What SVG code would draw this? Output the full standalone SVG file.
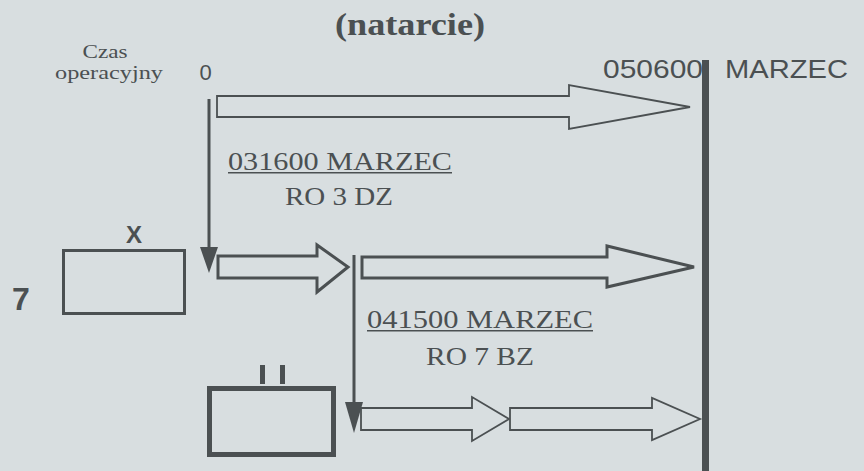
<svg xmlns="http://www.w3.org/2000/svg" width="864" height="471" viewBox="0 0 864 471">
  <defs>
    <style>
      .bg { fill: #d8dee0; }
      .ink { fill: #4b5052; }
      .serif { font-family: "Liberation Serif", "Times New Roman", serif; fill: #4b5052; }
      .sans { font-family: "Liberation Sans", Arial, sans-serif; fill: #4b5052; }
      .arrow { fill: none; stroke: #4b5052; stroke-linejoin: miter; }
      .thin { stroke-width: 1.8; }
      .thick { stroke-width: 3; }
      .box { fill: none; stroke: #4b5052; }
      .line { stroke: #4b5052; fill: none; }
    </style>
  </defs>
  <rect class="bg" x="0" y="0" width="864" height="471"/>

  <text class="serif" x="410" y="35" font-size="32" font-weight="bold" text-anchor="middle" textLength="150" lengthAdjust="spacingAndGlyphs">(natarcie)</text>

  <g id="labels">
    <text class="serif" x="105" y="57.5" font-size="19.5" text-anchor="middle" textLength="45" lengthAdjust="spacingAndGlyphs">Czas</text>
    <text class="serif" x="109" y="79" font-size="19.5" text-anchor="middle" textLength="108" lengthAdjust="spacingAndGlyphs">operacyjny</text>
    <text class="sans" x="205.5" y="80" font-size="22" text-anchor="middle">0</text>
    <text class="sans" x="603" y="78" font-size="26" textLength="100" lengthAdjust="spacingAndGlyphs">050600</text>
    <text class="sans" x="725" y="78" font-size="26" textLength="123" lengthAdjust="spacingAndGlyphs">MARZEC</text>
  </g>

  <g id="deadline">
    <rect class="ink" x="702" y="60" width="7" height="411"/>
  </g>

  <g id="unit-7">
    <text class="sans" x="21" y="310" font-size="32" font-weight="bold" text-anchor="middle">7</text>
    <text class="sans" x="134" y="243" font-size="24" font-weight="bold" text-anchor="middle">X</text>
    <rect class="box" x="63.5" y="250.5" width="121" height="63" stroke-width="3"/>
  </g>

  <g id="unit-11">
    <rect class="ink" x="260" y="365" width="5" height="19"/>
    <rect class="ink" x="280" y="365" width="5" height="19"/>
    <rect class="box" x="209.5" y="388.5" width="124" height="66" stroke-width="5"/>
  </g>

  <g id="label-ro3">
    <text class="serif" x="228" y="170" font-size="26" textLength="224" lengthAdjust="spacingAndGlyphs">031600 MARZEC</text>
    <rect class="ink" x="228" y="172" width="224" height="1.5"/>
    <text class="serif" x="339" y="205" font-size="26" text-anchor="middle" textLength="108" lengthAdjust="spacingAndGlyphs">RO 3 DZ</text>
  </g>

  <g id="label-ro7">
    <text class="serif" x="367" y="328" font-size="26" textLength="226" lengthAdjust="spacingAndGlyphs">041500 MARZEC</text>
    <rect class="ink" x="367" y="330" width="226" height="1.5"/>
    <text class="serif" x="480" y="365" font-size="26" text-anchor="middle" textLength="108" lengthAdjust="spacingAndGlyphs">RO 7 BZ</text>
  </g>

  <g id="connectors">
    <!-- vertical time line 1 -->
    <line class="line" x1="209" y1="99" x2="209" y2="255" stroke-width="3"/>
    <polygon class="ink" points="200,247 218,247 209,273"/>
    <!-- vertical time line 2 -->
    <line class="line" x1="354" y1="255" x2="354" y2="410" stroke-width="3"/>
    <polygon class="ink" points="345,402 363,402 354,433"/>

    <!-- top arrow -->
    <polygon class="arrow thin" points="217,96 569,96 569,85 690,107 569,129 569,117 217,117"/>
    <!-- middle arrow 1 -->
    <polygon class="arrow thick" points="218,256 317,256 317,245 348,267 317,292 317,278 218,278"/>
    <!-- middle arrow 2 -->
    <polygon class="arrow thick" points="362,257 607,257 607,246 694,267 607,287 607,278 362,278"/>
    <!-- bottom arrow 1 -->
    <polygon class="arrow thin" points="361,408 472,408 472,397 509,419 472,441 472,430 361,430"/>
    <!-- bottom arrow 2 -->
    <polygon class="arrow thin" points="510,408 652,408 652,398 700,419 652,440 652,430 510,430"/>
  </g>
</svg>
